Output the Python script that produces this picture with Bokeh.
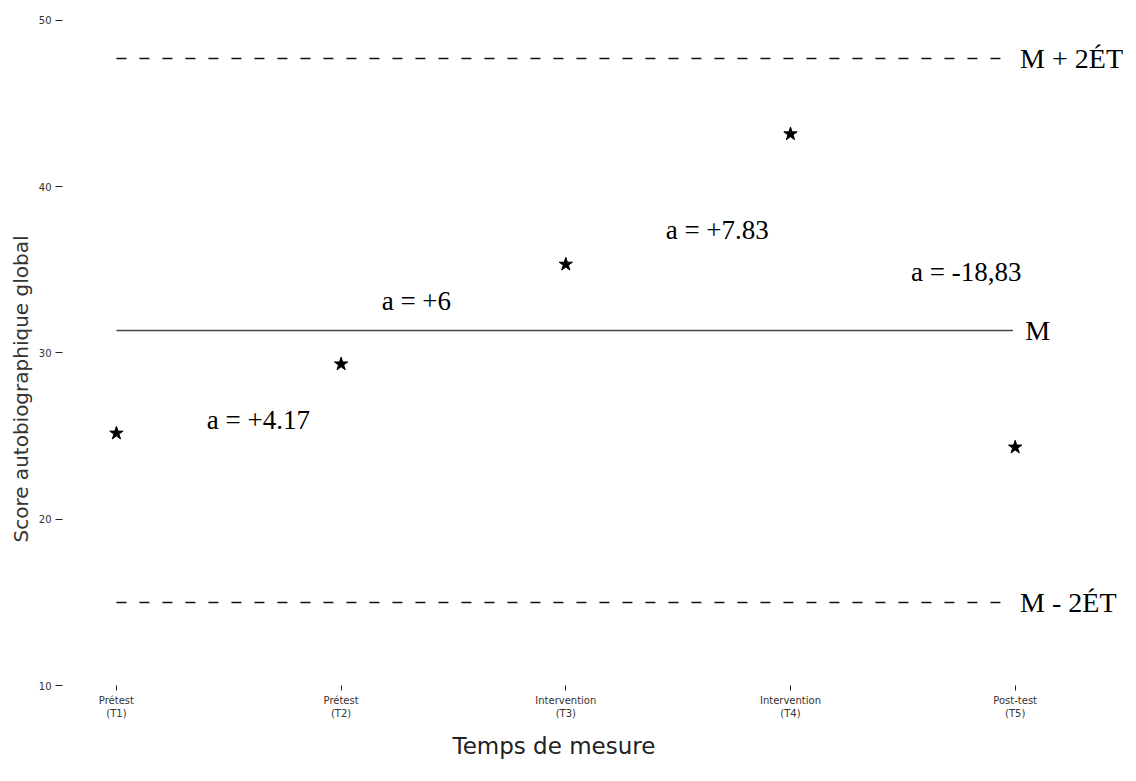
from bokeh.plotting import figure
from bokeh.models import Range1d, FixedTicker, ColumnDataSource, Title
from bokeh.core.properties import value
from bokeh.embed import file_html
from bokeh.resources import INLINE

# Measurement times and global autobiographical scores
temps = [1, 2, 3, 4, 5]
temps_labels = ["Prétest\n(T1)", "Prétest\n(T2)", "Intervention\n(T3)",
                "Intervention\n(T4)", "Post-test\n(T5)"]
scores = [25.17, 29.33, 35.33, 43.17, 24.33]

# Reference norms: mean and mean ± 2 standard deviations
moyenne = 31.35
ecart_type = 8.18

# Change between consecutive measures
pentes = ["a = +4.17", "a = +6", "a = +7.83", "a = -18,83"]
pente_x = [1.632, 2.335, 3.674, 4.782]
pente_y = [25.94, 33.10, 37.37, 34.90]

y_ticks = [10, 20, 30, 40, 50]

p = figure(width=1136, height=781, output_backend="svg", toolbar_location=None,
           x_range=Range1d(0.76, 5.54), y_range=Range1d(9.7, 51.2),
           min_border_left=62, min_border_right=0, min_border_top=0,
           min_border_bottom=91)
p.outline_line_color = None
p.grid.visible = False
p.background_fill_color = "white"
p.border_fill_color = "white"

# Axes
p.xaxis.ticker = FixedTicker(ticks=temps)
p.xaxis.major_label_overrides = {t: l for t, l in zip(temps, temps_labels)}
p.yaxis.ticker = FixedTicker(ticks=y_ticks)
for ax in (p.xaxis[0], p.yaxis[0]):
    ax.axis_line_color = None
    ax.minor_tick_line_color = None
    ax.major_tick_line_color = "#222222"
    ax.major_label_text_font = "DejaVu Sans"
    ax.major_label_text_font_size = "10px"
    ax.major_label_text_color = "#333333"
p.xaxis.major_tick_in = 5
p.xaxis.major_tick_out = 0
p.xaxis.major_label_standoff = 4
p.yaxis.major_tick_in = 0
p.yaxis.major_tick_out = 7
p.yaxis.major_label_standoff = 4

# Axis titles, placed left of the frame centre / below it
sans = "DejaVu Sans"
p.add_layout(Title(text="Temps de mesure", align="left", offset=390,
                   text_font=sans, text_font_size="23px",
                   text_font_style="normal", text_color="#222222",
                   standoff=18), "below")
p.add_layout(Title(text="Score autobiographique global", align="left",
                   offset=148, text_font=sans, text_font_size="20px",
                   text_font_style="normal", text_color="#333333",
                   standoff=6), "left")

# Norm lines
x0, x1 = temps[0], temps[-1] - 0.01
p.line([x0, x1], [moyenne + 2 * ecart_type] * 2, line_color="#111111",
       line_width=1.4, line_dash="10 13")
p.line([x0, x1], [moyenne] * 2, line_color="#444444", line_width=1.4)
p.line([x0, x1], [moyenne - 2 * ecart_type] * 2, line_color="#111111",
       line_width=1.4, line_dash="10 13")

serif = value("Liberation Serif")
p.text(x=[temps[-1] + 0.022, temps[-1] + 0.045, temps[-1] + 0.022],
       y=[moyenne + 2 * ecart_type, moyenne, moyenne - 2 * ecart_type],
       text=["M + 2ÉT", "M", "M - 2ÉT"], text_font=serif,
       text_font_size="28px", text_align="left", text_baseline="middle",
       text_color="black")

# Scores
src = ColumnDataSource(dict(x=temps, y=scores))
p.scatter("x", "y", source=src, marker="star", size=14,
          fill_color="black", line_color="black")

# Slope labels
p.text(x=pente_x, y=pente_y, text=pentes, text_font=serif,
       text_font_size="27px", text_align="center", text_baseline="middle",
       text_color="black")

open("out.html", "w").write(file_html(p, INLINE))
